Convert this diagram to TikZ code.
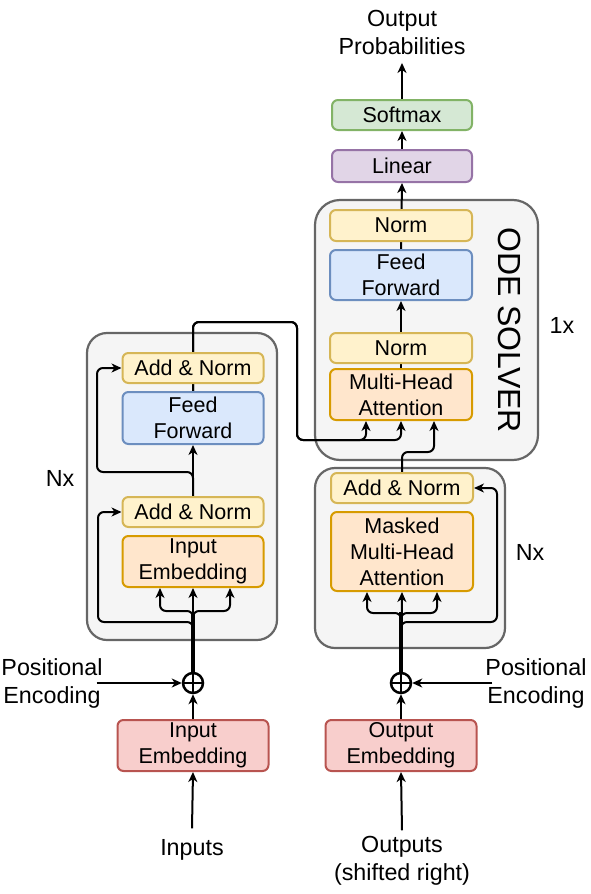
\documentclass[tikz,border=0pt]{standalone}
\usepackage{fontspec}
\setmainfont{Liberation Sans}
\usetikzlibrary{arrows.meta,calc}
\pgfdeclarelayer{bg}
\pgfdeclarelayer{edges}
\pgfsetlayers{bg,edges,main}
\newcommand\fs{\fontsize{21.5}{26}\selectfont}
\newcommand\fl{\fontsize{23.3}{28}\selectfont}
\definecolor{yelF}{HTML}{FFF2CC}\definecolor{yelD}{HTML}{D6B656}
\definecolor{bluF}{HTML}{DAE8FC}\definecolor{bluD}{HTML}{6C8EBF}
\definecolor{orgF}{HTML}{FFE6CC}\definecolor{orgD}{HTML}{D79B00}
\definecolor{redF}{HTML}{F8CECC}\definecolor{redD}{HTML}{B85450}
\definecolor{purF}{HTML}{E1D5E7}\definecolor{purD}{HTML}{9673A6}
\definecolor{grnF}{HTML}{D5E8D4}\definecolor{grnD}{HTML}{82B366}
\definecolor{grpF}{HTML}{F5F5F5}\definecolor{grpD}{HTML}{666666}
\begin{document}
\begin{tikzpicture}[x=1pt,y=-1pt,
  txt/.style={font=\fl, align=center, inner sep=0pt},
  blk/.style={draw, rounded corners=6pt, line width=2pt, font=\fs, align=center, inner sep=0pt},
  sz/.style 2 args={minimum width=#1pt, minimum height=#2pt},
  yel/.style={blk, fill=yelF, draw=yelD},
  blu/.style={blk, fill=bluF, draw=bluD},
  org/.style={blk, fill=orgF, draw=orgD},
  red/.style={blk, fill=redF, draw=redD},
  pur/.style={blk, fill=purF, draw=purD},
  grn/.style={blk, fill=grnF, draw=grnD},
  grp/.style={draw=grpD, fill=grpF, line width=2.2pt, inner sep=0pt},
  arr/.style={line width=2pt, -{Stealth[length=10pt,width=9pt,inset=3pt]}, rounded corners=6pt},
  thk/.style={line width=4pt},
  opl/.style={circle, draw, line width=2.5pt, minimum size=20pt, inner sep=0pt}
]
\useasboundingbox (0,0) rectangle (590,894);

% groups
\begin{pgfonlayer}{bg}
\node[grp, rounded corners=20pt, sz={190}{307}] (enc) at (182,486.5) {};
\node[grp, rounded corners=25pt, sz={223}{260}] (ode) at (426.5,330) {};
\node[grp, rounded corners=20pt, sz={190}{180}] (dec) at (410,558) {};
\end{pgfonlayer}

% encoder
\node[yel, sz={141}{30}] (an2) at (193,368) {Add \& Norm};
\node[blu, sz={141}{52}] (ff1) at (193,418) {Feed\\Forward};
\node[yel, sz={141}{30}] (an1) at (193,512) {Add \& Norm};
\node[org, sz={141}{51}] (emb1) at (193,561.5) {Input\\Embedding};
\node[red, sz={151}{51}] (inemb) at (193,745.5) {Input\\Embedding};
\node[opl] (op1) at (193,683) {};
\draw[line width=2.5pt] (op1.north) -- (op1.south) (op1.west) -- (op1.east);
\node[txt] (inputs) at (192,850) {Inputs};
\node[txt] (pel) at (52,683) {Positional\\Encoding};
\node[txt] (nx1) at (60,478) {Nx};

% ODE solver
\node[yel, sz={142}{31}] (norm2) at (401,225.5) {Norm};
\node[blu, sz={142}{50}] (ff2) at (401,275) {Feed\\Forward};
\node[yel, sz={142}{30}] (norm1) at (401,348) {Norm};
\node[org, sz={142}{51}] (mha) at (401,394.5) {Multi-Head\\Attention};
\node[txt, font=\fontsize{32}{38}\selectfont, rotate=-90] (odet) at (510,330) {ODE SOLVER};
\node[txt] (onex) at (562,325) {1x};
\node[pur, sz={140}{32}] (lin) at (402,166) {Linear};
\node[grn, sz={140}{30}] (soft) at (402,115) {Softmax};
\node[txt] (outp) at (402,32.5) {Output\\Probabilities};

% decoder
\node[yel, sz={142}{30}] (an3) at (402,488) {Add \& Norm};
\node[org, sz={142}{79}] (mmha) at (402,551.5) {Masked\\Multi-Head\\Attention};
\node[red, sz={151}{51}] (outemb) at (401,745.5) {Output\\Embedding};
\node[opl] (op2) at (401,683) {};
\draw[line width=2.5pt] (op2.north) -- (op2.south) (op2.west) -- (op2.east);
\node[txt] (outs) at (402,861) {Outputs\\(shifted right)};
\node[txt] (per) at (536,683) {Positional\\Encoding};
\node[txt] (nx2) at (530,552) {Nx};

\coordinate (b1) at (193,612);
\coordinate (b2) at (401,612);

\begin{pgfonlayer}{edges}
% encoder input
\draw[arr] ([yshift=11pt]inputs.north) -- (inemb.south);
\draw[arr] (inemb.north) -- (op1.south);
\draw[arr] ([xshift=-6pt]pel.east) -- (op1.west);
\draw[thk] (op1.north) -- (b1);
\draw[arr] (op1.north) -- (emb1.south);
\draw[arr] (op1.north) |- ($(emb1.south)+(-33,23)$) -- ([xshift=-33pt]emb1.south);
\draw[arr] (op1.north) |- ($(emb1.south)+(37,23)$) -- ([xshift=37pt]emb1.south);
\draw[arr] (op1.north) |- (98,622) |- (an1.west);
\draw[arr] (an1.north) -- (ff1.south);
\draw[arr] (an1.north) |- (97,472) |- (an2.west);
% encoder to ODE
\draw[arr] (ff1.north) |- (297,322) |- (401,440) -- (mha.south);
\draw[arr] (ff1.north) |- (297,322) |- (366,440) -- ([xshift=-35pt]mha.south);
\draw[arr] (an3.north) |- (434,452) -- ([xshift=33pt]mha.south);
% ODE
\draw[arr] (mha.north) -- (ff2.south);
\draw[arr] (ff2.north) -- (lin.south);
\draw[arr] (lin.north) -- (soft.south);
\draw[arr] (soft.north) -- ([yshift=-8pt]outp.south);
% decoder
\draw[arr] ([yshift=6pt]outs.north) -- (outemb.south);
\draw[arr] (outemb.north) -- (op2.south);
\draw[arr] ([xshift=7pt]per.west) -- (op2.east);
\draw[thk] (op2.north) -- (b2);
\draw[arr] (op2.north) -- (mmha.south);
\draw[arr] (op2.north) |- ($(mmha.south)+(-35,21)$) -- ([xshift=-35pt]mmha.south);
\draw[arr] (op2.north) |- ($(mmha.south)+(35,21)$) -- ([xshift=35pt]mmha.south);
\draw[arr] (op2.north) |- (497,622) |- (an3.east);
\end{pgfonlayer}
\end{tikzpicture}
\end{document}
